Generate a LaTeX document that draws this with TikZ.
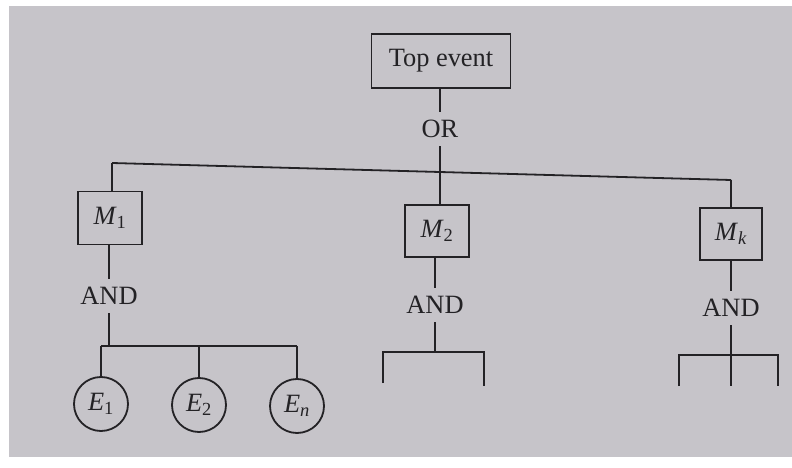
\documentclass[tikz,border=0pt]{standalone}
\usepackage{fontspec}
\setmainfont{Liberation Serif}
\definecolor{paper}{HTML}{C6C4C9}
\definecolor{ink}{HTML}{232225}
\begin{document}
\begin{tikzpicture}[x=1bp,y=-1bp,
  every node/.style={font=\fontsize{26.5}{30}\selectfont, text=ink},
  box/.style={draw=ink, line width=1.8bp, inner sep=0pt, align=center},
  gate/.style={inner sep=0pt, minimum height=34bp, minimum width=40bp},
  evt/.style={draw=ink, line width=1.8bp, circle, inner sep=0pt, minimum size=54bp},
  wire/.style={draw=ink, line width=1.8bp}
]
\useasboundingbox (0,0) rectangle (792,468);
\fill[white] (0,0) rectangle (792,468);
\fill[paper] (9,6) rectangle (792,457);

% top level
\node[box, minimum width=139bp, minimum height=54bp] (top) at (441,61) {Top event};
\node[gate] (or) at (440,129) {OR};
\coordinate (bl) at (112,163);
\coordinate (br) at (731,180);

% middle boxes
\node[box, minimum width=64bp, minimum height=53bp] (m1) at (110,218) {\textit{M}\textsubscript{1}};
\node[box, minimum width=64bp, minimum height=52bp] (m2) at (437,231) {\textit{M}\textsubscript{2}};
\node[box, minimum width=62bp, minimum height=52bp] (mk) at (731,234) {\textit{M}\textsubscript{\textit{k}}};

% AND gates
\node[gate] (and1) at (109,296) {AND};
\node[gate] (and2) at (435,305) {AND};
\node[gate] (and3) at (731,308) {AND};

% events
\node[evt] (e1) at (101,404) {\textit{E}\textsubscript{1}};
\node[evt] (e2) at (199,405) {\textit{E}\textsubscript{2}};
\node[evt] (en) at (297,406) {\textit{E}\textsubscript{\textit{n}}};

% bars
\coordinate (c1) at (109,346);
\coordinate (c2l) at (383,352);
\coordinate (c2r) at (484,352);
\coordinate (d2l) at (383,383);
\coordinate (d2r) at (484,386);
\coordinate (c3l) at (679,355);
\coordinate (c3r) at (778,355);
\coordinate (d3l) at (679,386);
\coordinate (d3m) at (731,386);
\coordinate (d3r) at (778,386);

% connectors
\draw[wire] (top.south -| or) -- (or);
\draw[wire] (or) -- (or |- m2.north);
\draw[wire] (bl) -- (br);
\draw[wire] (bl) -- (bl |- m1.north);
\draw[wire] (br) -- (mk);

\draw[wire] (m1.south -| and1) -- (and1);
\draw[wire] (m2.south -| and2) -- (and2);
\draw[wire] (mk) -- (and3);

\draw[wire] (and1) -- (c1);
\draw[wire] (e1 |- c1) -- (en |- c1);
\draw[wire] (e1 |- c1) -- (e1);
\draw[wire] (e2 |- c1) -- (e2);
\draw[wire] (en |- c1) -- (en);

\draw[wire] (and2) -- (and2 |- c2l);
\draw[wire] (d2l) -- (c2l) -- (c2r) -- (d2r);

\draw[wire] (and3) -- (d3m);
\draw[wire] (d3l) -- (c3l) -- (c3r) -- (d3r);
\end{tikzpicture}
\end{document}
